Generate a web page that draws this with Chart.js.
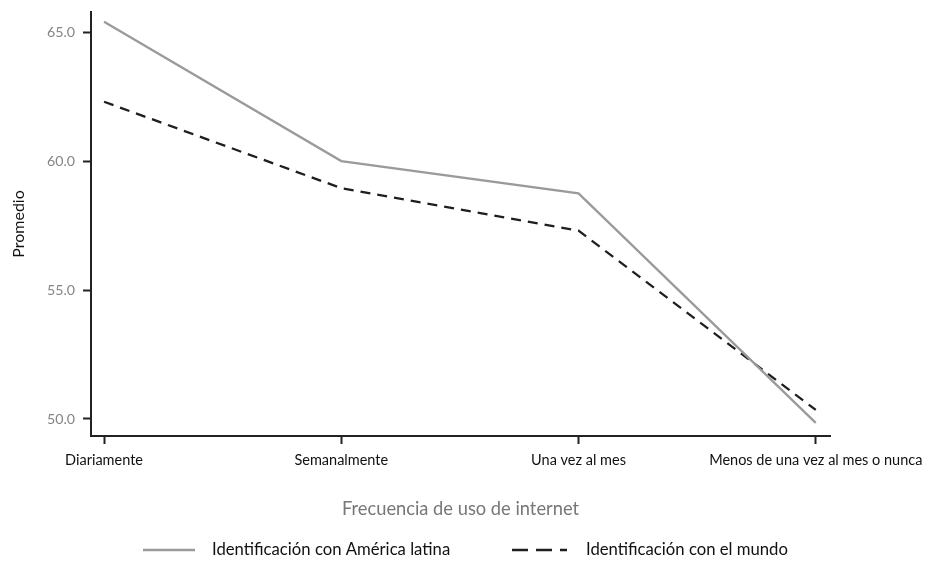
<!DOCTYPE html>
<html>
<head>
<meta charset="utf-8">
<script src="https://cdn.jsdelivr.net/npm/chart.js@4"></script>
<style>
    html, body { margin: 0; padding: 0; background: #fff; }
</style>
</head>
<body>
<canvas id="chart" width="926" height="562"></canvas>
<script>
const categories = ['Diariamente', 'Semanalmente', 'Una vez al mes', 'Menos de una vez al mes o nunca'];
const latinaValues = [65.4, 60.0, 58.75, 49.85];
const mundoValues = [62.3, 58.95, 57.3, 50.35];
const yTickValues = [50, 55, 60, 65];

const FONT = "Lato, 'DejaVu Sans Condensed', sans-serif";
Chart.defaults.font.family = FONT;

// legend drawn by hand so the gaps match the original
const bottomLegend = {
    id: 'bottomLegend',
    afterDraw (chart) {
        const ctx = chart.ctx;
        const y = 550;
        const slots = [
            { x: 143, len: 52, textX: 212, dash: [] },
            { x: 512, len: 55, textX: 586, dash: [16, 8] }
        ];

        chart.data.datasets.forEach((ds, i) => {
            const slot = slots[i];
            ctx.save();
            ctx.strokeStyle = ds.borderColor;
            ctx.lineWidth = 2.6;
            ctx.setLineDash(slot.dash);
            ctx.beginPath();
            ctx.moveTo(slot.x, y);
            ctx.lineTo(slot.x + slot.len, y);
            ctx.stroke();
            ctx.fillStyle = '#111';
            ctx.font = '16.7px ' + FONT;
            ctx.textBaseline = 'middle';
            ctx.fillText(ds.label, slot.textX, y);
            ctx.restore();
        });
    }
};

const toPoints = values => values.map((v, i) => ({ x: i, y: v }));

new Chart(
    document.getElementById('chart'),
    {
        type: 'line',
        data: {
            datasets: [
                {
                    label: 'Identificación con América latina',
                    data: toPoints(latinaValues),
                    borderColor: '#9a9a9a',
                    borderWidth: 2.3,
                    pointRadius: 0,
                    tension: 0
                },
                {
                    label: 'Identificación con el mundo',
                    data: toPoints(mundoValues),
                    borderColor: '#1e1e1e',
                    borderWidth: 2.3,
                    borderDash: [10, 7],
                    pointRadius: 0,
                    tension: 0
                }
            ]
        },
        options: {
            responsive: false,
            animation: false,
            layout: {
                padding: { top: 12, right: 96, bottom: 38, left: 0 }
            },
            plugins: {
                legend: { display: false },
                tooltip: { enabled: false }
            },
            scales: {
                x: {
                    type: 'linear',
                    min: -0.055,
                    max: 3.06,
                    afterBuildTicks: scale => {
                        scale.ticks = categories.map((c, i) => ({ value: i }));
                    },
                    afterFit: scale => {
                        scale.height = 88;
                        scale.paddingLeft = 0;
                        scale.paddingRight = 0;
                    },
                    ticks: {
                        callback: value => categories[value],
                        autoSkip: false,
                        maxRotation: 0,
                        padding: 8,
                        color: '#111',
                        font: { size: 14.5 }
                    },
                    grid: {
                        drawOnChartArea: false,
                        tickLength: 8,
                        tickWidth: 2,
                        tickColor: '#222'
                    },
                    border: { color: '#222', width: 2 },
                    title: {
                        display: true,
                        text: 'Frecuencia de uso de internet',
                        color: '#777',
                        font: { size: 18.3 },
                        padding: { top: 0, bottom: 4.2 }
                    }
                },
                y: {
                    min: 49.34,
                    max: 65.78,
                    afterBuildTicks: scale => {
                        scale.ticks = yTickValues.map(v => ({ value: v }));
                    },
                    afterFit: scale => {
                        scale.width = 91;
                        scale.paddingTop = 0;
                        scale.paddingBottom = 0;
                    },
                    ticks: {
                        callback: value => value.toFixed(1),
                        padding: 8,
                        color: '#858585',
                        font: { size: 14.2 }
                    },
                    grid: {
                        drawOnChartArea: false,
                        tickLength: 8,
                        tickWidth: 2,
                        tickColor: '#222'
                    },
                    border: { color: '#222', width: 2 },
                    title: {
                        display: true,
                        text: 'Promedio',
                        color: '#111',
                        font: { size: 16 },
                        padding: { top: 9, bottom: 0 }
                    }
                }
            }
        },
        plugins: [bottomLegend]
    }
);
</script>
</body>
</html>
